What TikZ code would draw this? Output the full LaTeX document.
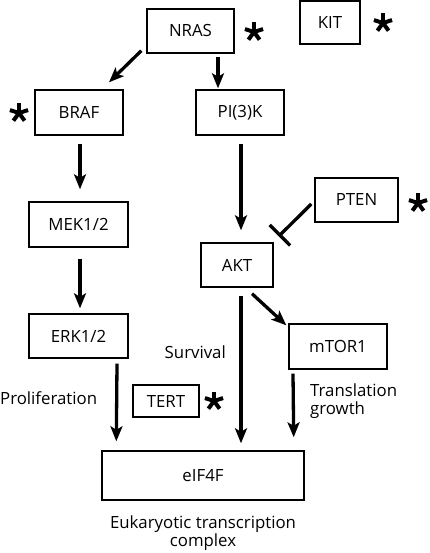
\documentclass[tikz,border=0pt]{standalone}
\usepackage{fontspec}
\setmainfont{Open Sans}
\usetikzlibrary{arrows.meta,calc}
\begin{document}
\begin{tikzpicture}[x=1pt,y=-1pt,
  box/.style={draw,line width=1.4pt,inner sep=0pt,font=\fontsize{16.8}{18}\selectfont},
  arr/.style={line width=3.3pt,-{Stealth[length=15pt,width=12pt,inset=3.5pt]}},
  inh/.style={line width=3.3pt,-{Bar[width=29pt,line width=3.3pt]}},
  lbl/.style={inner sep=0pt,font=\fontsize{16.8}{18}\selectfont},
  astr/.pic={\foreach \a in {-90,-18,198,54,126} \draw[line width=4pt] (0,0) -- (\a:9.5);}
]
\useasboundingbox (0,0) rectangle (429,553);
% boxes
\node[box,minimum width=87pt,minimum height=44pt] (NRAS) at (190.5,31) {NRAS};
\node[box,minimum width=60pt,minimum height=43pt] (KIT) at (330,22.5) {KIT};
\node[box,minimum width=88pt,minimum height=45pt] (BRAF) at (79,112.5) {BRAF};
\node[box,minimum width=88pt,minimum height=45pt] (PI3K) at (240,112.5) {PI(3)K};
\node[box,minimum width=99pt,minimum height=45pt] (MEK) at (78.5,224.5) {MEK1/2};
\node[box,minimum width=99pt,minimum height=44pt] (ERK) at (78.5,336) {ERK1/2};
\node[box,minimum width=83pt,minimum height=44pt] (PTEN) at (356.5,200) {PTEN};
\node[box,minimum width=72pt,minimum height=44pt] (AKT) at (237,265) {AKT};
\node[box,minimum width=98pt,minimum height=45pt] (MTOR) at (338,346.5) {mTOR1};
\node[box,minimum width=202pt,minimum height=49pt] (EIF) at (203,475.5) {eIF4F};
\node[box,minimum width=66pt,minimum height=32pt] (TERT) at (166,401) {TERT};
% stars
\pic at (254,32) {astr};
\pic at (383,23) {astr};
\pic at (19,113) {astr};
\pic at (418,203) {astr};
\pic at (214,401) {astr};
% labels
\node[lbl,anchor=east] (surv) at (226,352) {Survival};
\node[lbl,anchor=west] (prol) at (0,398) {Proliferation};
\node[lbl,anchor=north west,align=left] (trans) at (310,384) {Translation\\growth};
\node[lbl,anchor=north,align=center] (euk) at (203,516) {Eukaryotic transcription\\complex};
% connectors
\draw[arr] ($(NRAS.south west)+(-5,-3)$) -- ($(BRAF.north)+(30,-7)$);
\draw[arr] ($(NRAS.south)+(27.5,3)$) -- ($(PI3K.north)+(-22,-1)$);
\draw[arr] ($(BRAF.south)+(1,8)$) -- ($(MEK.north)+(1.5,-12)$);
\draw[arr] ($(MEK.south)+(1.5,11)$) -- ($(ERK.north)+(1.5,-5)$);
\draw[arr] ($(PI3K.south)+(1,8)$) -- ($(AKT.north)+(4,-12)$);
\draw[inh] ($(PTEN.west)+(-3,4)$) -- ($(AKT.north east)+(5,-6)$);
\draw[arr] ($(AKT.south)+(4,8)$) -- ($(EIF.north)+(38,-7)$);
\draw[arr] ($(AKT.south)+(15,6)$) -- ($(MTOR.north west)+(-2,2)$);
\draw[arr] ($(ERK.south)+(38.5,5)$) -- ($(EIF.north west)+(15,-9)$);
\draw[arr] ($(MTOR.south)+(-45,4)$) -- ($(EIF.north east)+(-11,-13)$);
\end{tikzpicture}
\end{document}
